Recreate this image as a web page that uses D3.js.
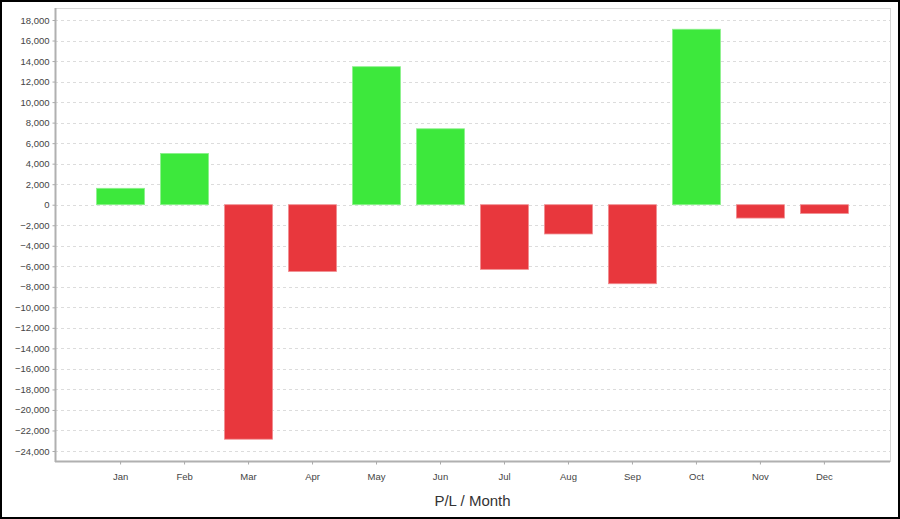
<!DOCTYPE html>
<html>
<head>
<meta charset="utf-8">
<script src="https://cdn.jsdelivr.net/npm/d3@7"></script>
<style>
html,body{margin:0;padding:0;background:#fff;}
svg{display:block;}
</style>
</head>
<body>
<svg id="chart" width="900" height="519"></svg>
<script>
const months = ["Jan","Feb","Mar","Apr","May","Jun","Jul","Aug","Sep","Oct","Nov","Dec"];
const pl = [1600, 5000, -22850, -6500, 13450, 7400, -6300, -2850, -7700, 17100, -1300, -850];
const yTicks = [18000,16000,14000,12000,10000,8000,6000,4000,2000,0,-2000,-4000,-6000,-8000,-10000,-12000,-14000,-16000,-18000,-20000,-22000,-24000];
const title = "P/L / Month";

const W = 900, H = 519;
const plot = {left: 55, right: 890, top: 8, bottom: 461};
const svg = d3.select("#chart");

// outer border
svg.append("rect").attr("x",1).attr("y",1).attr("width",W-2).attr("height",H-2)
  .attr("fill","#fff").attr("stroke","#000").attr("stroke-width",2);

const y = d3.scaleLinear().domain([-24000, 18000]).range([451, 20]);
const x = d3.scaleBand().domain(months).range([plot.left, plot.right])
  .paddingInner(0.25).paddingOuter(0.65);

// plot area border (light)
svg.append("rect").attr("x",plot.left+0.5).attr("y",plot.top+0.5)
  .attr("width",plot.right-plot.left).attr("height",plot.bottom-plot.top)
  .attr("fill","#fff").attr("stroke","#d8d8d8").attr("stroke-width",1);

// gridlines
svg.append("g").selectAll("line").data(yTicks).join("line")
  .attr("x1",plot.left).attr("x2",plot.right)
  .attr("y1",d=>Math.round(y(d))+0.5).attr("y2",d=>Math.round(y(d))+0.5)
  .attr("stroke","#dcdcdc").attr("stroke-width",1).attr("stroke-dasharray","3,3");

// bars
svg.append("g").selectAll("rect").data(months.map((m,i)=>({m, v: pl[i]}))).join("rect")
  .attr("x",d=>x(d.m))
  .attr("width",x.bandwidth())
  .attr("y",d=>y(Math.max(0,d.v)))
  .attr("height",d=>Math.abs(y(d.v)-y(0)))
  .attr("fill",d=>d.v>=0?"#3de83c":"#e8373d")
  .attr("stroke",d=>d.v>=0?"#8cf08c":"#f08c8f")
  .attr("stroke-width",0.8);

// y axis
const yAxis = d3.axisLeft(y).tickValues(yTicks).tickFormat(d3.format(",")).tickSize(3).tickPadding(3);
const gy = svg.append("g").attr("transform",`translate(${plot.left+0.5},0)`).call(yAxis);
gy.select(".domain").attr("stroke","#b0b0b0").attr("stroke-width",2).attr("d",`M0,${plot.top}V${plot.bottom+1}`);
gy.selectAll(".tick line").attr("stroke","#aaa");
gy.selectAll("text").attr("font-family","Liberation Sans, Arial, sans-serif").attr("font-size",9.5).attr("fill","#444");

// x axis
const xAxis = d3.axisBottom(x).tickSize(3).tickPadding(9);
const gx = svg.append("g").attr("transform",`translate(0,${plot.bottom+0.5})`).call(xAxis);
gx.select(".domain").attr("stroke","#b0b0b0").attr("stroke-width",2).attr("d",`M${plot.left},0H${plot.right}`);
gx.selectAll(".tick line").attr("stroke","#aaa");
gx.selectAll("text").attr("font-family","Liberation Sans, Arial, sans-serif").attr("font-size",9.5).attr("fill","#444");

// title
svg.append("text").attr("x",(plot.left+plot.right)/2).attr("y",506)
  .attr("text-anchor","middle").attr("font-family","Liberation Sans, Arial, sans-serif")
  .attr("font-size",15).attr("fill","#333").text(title);
</script>
</body>
</html>
